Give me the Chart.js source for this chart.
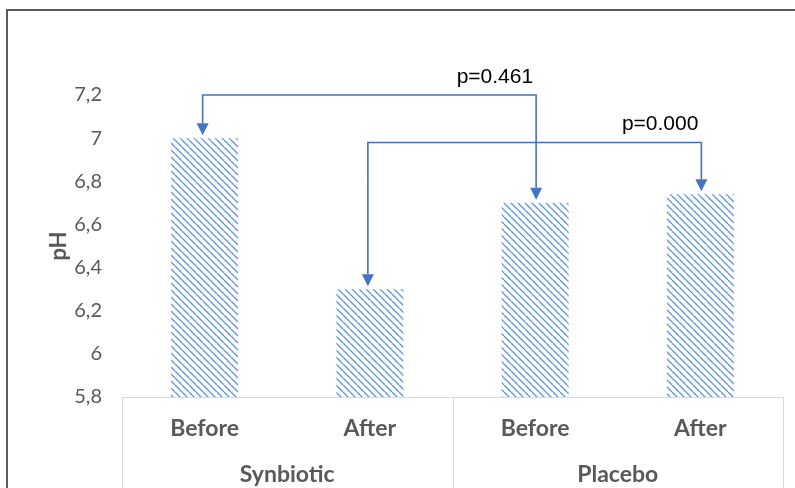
<!DOCTYPE html>
<html><head><meta charset="utf-8">
<script src="https://cdn.jsdelivr.net/npm/chart.js@4.4.0/dist/chart.umd.min.js"></script>
<style>html,body{margin:0;padding:0;background:#fff;} #wrap{width:795px;height:488px;position:relative;}</style>
</head><body><div id="wrap"><canvas id="c" width="795" height="488"></canvas></div>
<script>
const subLabels = ['Before', 'After', 'Before', 'After'];
const groupLabels = ['Synbiotic', 'Placebo'];
const phValues = [7.0, 6.3, 6.7, 6.74];
const yMin = 5.8, yMax = 7.2, yStep = 0.2;
const comparisons = [
  { from: 0, to: 2, level: 7.2, label: 'p=0.461' },
  { from: 1, to: 3, level: 6.98, label: 'p=0.000' }
];

const BLUE = '#4472C4';
const GRAY = '#595959';

function makePattern() {
  const s = 7;
  const c = document.createElement('canvas');
  c.width = s; c.height = s;
  const g = c.getContext('2d');
  g.fillStyle = '#ffffff';
  g.fillRect(0, 0, s, s);
  g.strokeStyle = '#5b93dc';
  g.lineWidth = 1.3;
  g.beginPath();
  for (const k of [-s, 0, s]) { g.moveTo(k, 0); g.lineTo(k + s, s); }
  g.stroke();
  return document.getElementById('c').getContext('2d').createPattern(c, 'repeat');
}

const deco = {
  id: 'deco',
  beforeDraw(chart) {
    const ctx = chart.ctx;
    ctx.save();
    ctx.strokeStyle = '#5a5a5a';
    ctx.lineWidth = 2;
    ctx.beginPath();
    ctx.moveTo(7, chart.height + 2); ctx.lineTo(7, 10); ctx.lineTo(chart.width + 2, 10);
    ctx.stroke();
    ctx.restore();
  },
  afterDraw(chart) {
    const ctx = chart.ctx;
    const xs = chart.scales.x, ys = chart.scales.y;
    const area = chart.chartArea;
    ctx.save();
    ctx.strokeStyle = '#d9d9d9';
    ctx.lineWidth = 1;
    const mid = (xs.getPixelForValue(1) + xs.getPixelForValue(2)) / 2;
    ctx.beginPath();
    for (const x of [area.left, mid, area.right]) {
      ctx.moveTo(Math.round(x) + 0.5, area.bottom);
      ctx.lineTo(Math.round(x) + 0.5, chart.height);
    }
    ctx.stroke();
    ctx.restore();
    ctx.save();
    ctx.strokeStyle = BLUE; ctx.fillStyle = BLUE; ctx.lineWidth = 1.6;
    const head = 12, hw = 6;
    for (const cmp of comparisons) {
      const x1 = xs.getPixelForValue(cmp.from) - 2, x2 = xs.getPixelForValue(cmp.to) + 1;
      const yL = ys.getPixelForValue(cmp.level);
      const yA = ys.getPixelForValue(phValues[cmp.from]) - 3;
      const yB = ys.getPixelForValue(phValues[cmp.to]) - 3;
      ctx.beginPath();
      ctx.moveTo(x2, yB - head); ctx.lineTo(x2, yL); ctx.lineTo(x1, yL); ctx.lineTo(x1, yA - head);
      ctx.stroke();
      for (const [x, y] of [[x1, yA], [x2, yB]]) {
        ctx.beginPath();
        ctx.moveTo(x, y); ctx.lineTo(x - hw, y - head); ctx.lineTo(x + hw, y - head); ctx.closePath();
        ctx.fill();
      }
      ctx.save();
      ctx.fillStyle = '#000';
      ctx.font = '21px "Liberation Sans"';
      ctx.textAlign = 'right';
      ctx.textBaseline = 'alphabetic';
      ctx.fillText(cmp.label, x2 - 3, yL - 12);
      ctx.restore();
    }
    ctx.restore();
  }
};

const fmt = v => String(Number(Number(v).toFixed(1))).replace('.', ',');

new Chart(document.getElementById('c'), {
  type: 'bar',
  data: {
    labels: subLabels,
    datasets: [{
      data: phValues,
      backgroundColor: makePattern(),
      borderWidth: 0,
      xAxisID: 'x',
      yAxisID: 'y'
    }]
  },
  options: {
    responsive: false,
    animation: false,
    events: [],
    layout: { padding: { left: 0, right: 12, top: 95, bottom: 0 } },
    plugins: { legend: { display: false }, tooltip: { enabled: false } },
    datasets: { bar: { categoryPercentage: 1, barPercentage: 0.405 } },
    scales: {
      y: {
        min: yMin, max: yMax,
        ticks: { stepSize: yStep, padding: 12, color: GRAY, font: { family: 'Lato', size: 20 }, callback: v => fmt(v) },
        grid: { display: false },
        border: { display: false },
        title: { display: true, text: 'pH', color: GRAY, font: { family: 'Lato', size: 22, weight: 'bold' }, padding: { top: 46, bottom: 0 } },
        afterFit(s) { s.width = 122; }
      },
      x: {
        type: 'category',
        position: 'bottom',
        weight: 1,
        ticks: { color: GRAY, font: { family: 'Lato', size: 23, weight: 'bold' }, padding: 10, maxRotation: 0 },
        grid: { display: false },
        border: { display: true, color: '#d9d9d9', width: 1 },
        afterFit(s) { s.height = 46; }
      },
      x2: {
        type: 'category',
        position: 'bottom',
        weight: 2,
        labels: groupLabels,
        offset: true,
        ticks: { color: GRAY, font: { family: 'Lato', size: 23, weight: 'bold' }, padding: 10, maxRotation: 0 },
        grid: { display: false },
        border: { display: false },
        afterFit(s) { s.height = 45; }
      }
    }
  },
  plugins: [deco]
});
</script>
</body></html>
